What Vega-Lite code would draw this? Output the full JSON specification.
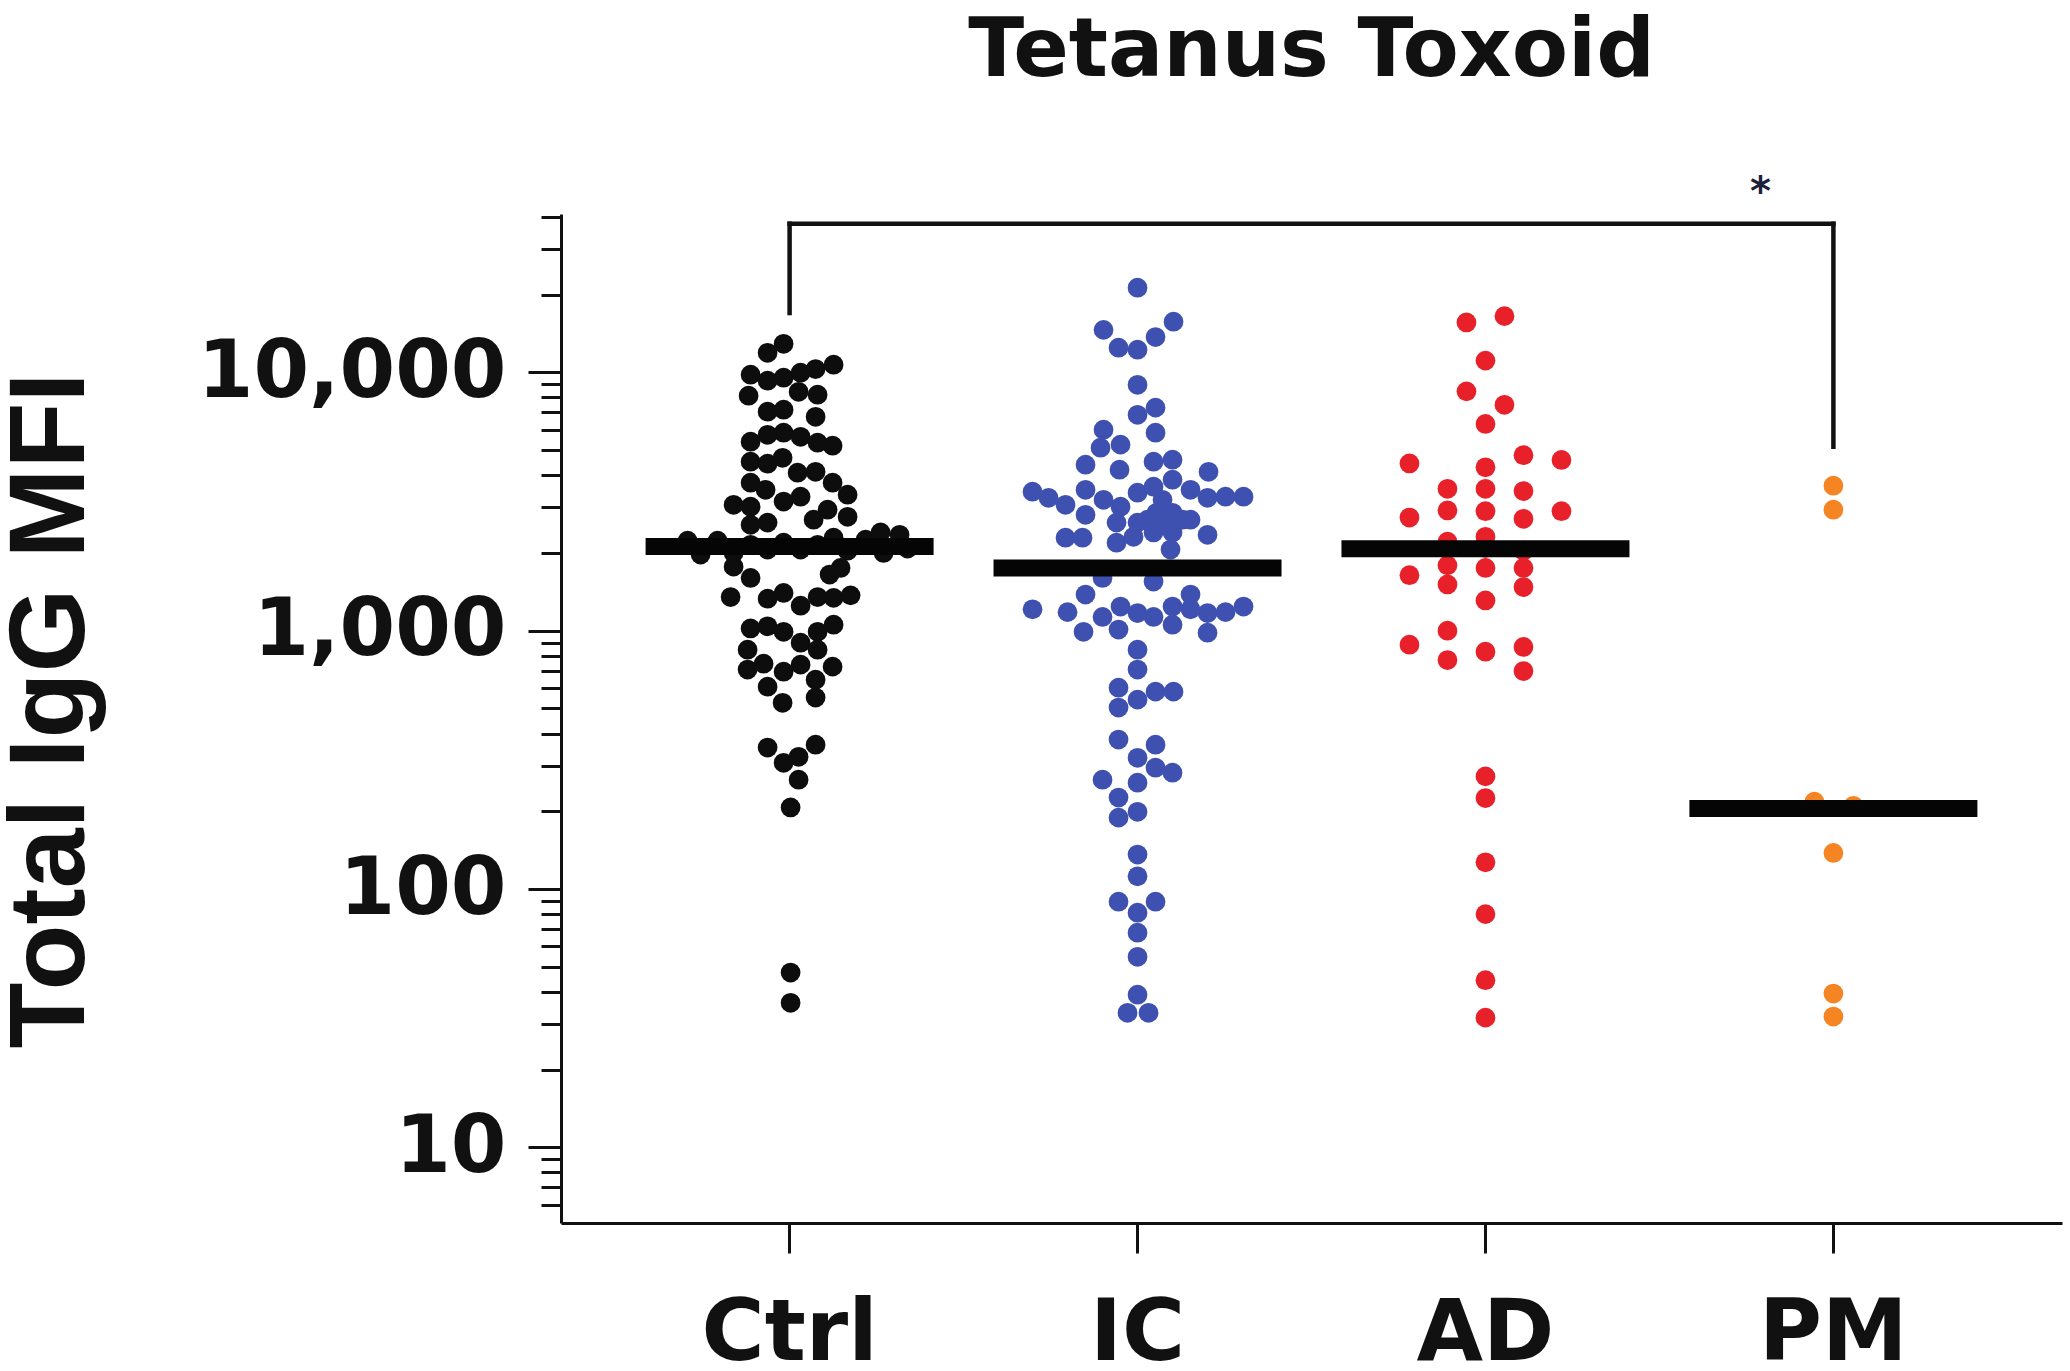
{
  "$schema": "https://vega.github.io/schema/vega-lite/v6.json",
  "width": 1501,
  "height": 1009,
  "autosize": {"type": "none"},
  "padding": {"left": 561, "top": 214, "right": 8, "bottom": 148},
  "background": "white",
  "config": {"view": {"stroke": null}, "font": "DejaVu Sans"},
  "title": {"text": "Tetanus Toxoid", "frame": "group", "anchor": "middle", "offset": 80, "fontSize": 82, "font": "DejaVu Sans", "fontWeight": "bold", "color": "#111111"},
  "datasets": {
    "points": [
      {"g":"Ctrl","o":-6,"v":12900},{"g":"Ctrl","o":-22,"v":11900},{"g":"Ctrl","o":-39,"v":9790},{"g":"Ctrl","o":-22,"v":9280},{"g":"Ctrl","o":-6,"v":9530},{"g":"Ctrl","o":11,"v":9970},{"g":"Ctrl","o":26,"v":10300},{"g":"Ctrl","o":44,"v":10700},{"g":"Ctrl","o":-41,"v":8120},{"g":"Ctrl","o":9,"v":8410},{"g":"Ctrl","o":28,"v":8190},{"g":"Ctrl","o":-22,"v":7040},{"g":"Ctrl","o":-6,"v":7170},{"g":"Ctrl","o":26,"v":6730},{"g":"Ctrl","o":-39,"v":5390},{"g":"Ctrl","o":-22,"v":5730},{"g":"Ctrl","o":-6,"v":5840},{"g":"Ctrl","o":11,"v":5630},{"g":"Ctrl","o":28,"v":5340},{"g":"Ctrl","o":43,"v":5200},{"g":"Ctrl","o":-39,"v":4510},{"g":"Ctrl","o":-22,"v":4430},{"g":"Ctrl","o":-7,"v":4670},{"g":"Ctrl","o":8,"v":4090},{"g":"Ctrl","o":26,"v":4120},{"g":"Ctrl","o":-39,"v":3740},{"g":"Ctrl","o":-24,"v":3510},{"g":"Ctrl","o":43,"v":3740},{"g":"Ctrl","o":58,"v":3360},{"g":"Ctrl","o":-56,"v":3070},{"g":"Ctrl","o":-39,"v":3020},{"g":"Ctrl","o":-6,"v":3160},{"g":"Ctrl","o":11,"v":3300},{"g":"Ctrl","o":38,"v":2940},{"g":"Ctrl","o":58,"v":2760},{"g":"Ctrl","o":24,"v":2690},{"g":"Ctrl","o":-39,"v":2570},{"g":"Ctrl","o":-22,"v":2620},
      {"g":"Ctrl","o":-102,"v":2230},{"g":"Ctrl","o":-89,"v":1970},{"g":"Ctrl","o":-72,"v":2230},{"g":"Ctrl","o":-56,"v":2000},{"g":"Ctrl","o":-39,"v":2150},{"g":"Ctrl","o":-22,"v":2060},{"g":"Ctrl","o":-6,"v":2190},{"g":"Ctrl","o":11,"v":2060},{"g":"Ctrl","o":28,"v":2150},{"g":"Ctrl","o":44,"v":2290},{"g":"Ctrl","o":58,"v":2040},{"g":"Ctrl","o":76,"v":2250},{"g":"Ctrl","o":91,"v":2400},{"g":"Ctrl","o":94,"v":2000},{"g":"Ctrl","o":110,"v":2350},{"g":"Ctrl","o":118,"v":2080},
      {"g":"Ctrl","o":-56,"v":1770},{"g":"Ctrl","o":-39,"v":1600},{"g":"Ctrl","o":40,"v":1650},{"g":"Ctrl","o":51,"v":1750},{"g":"Ctrl","o":-59,"v":1350},{"g":"Ctrl","o":-22,"v":1330},{"g":"Ctrl","o":-6,"v":1400},{"g":"Ctrl","o":11,"v":1250},{"g":"Ctrl","o":28,"v":1350},{"g":"Ctrl","o":44,"v":1340},{"g":"Ctrl","o":61,"v":1370},{"g":"Ctrl","o":-39,"v":1020},{"g":"Ctrl","o":-22,"v":1040},{"g":"Ctrl","o":-6,"v":990},{"g":"Ctrl","o":28,"v":990},{"g":"Ctrl","o":44,"v":1055},{"g":"Ctrl","o":-42,"v":844},{"g":"Ctrl","o":11,"v":899},{"g":"Ctrl","o":28,"v":844},{"g":"Ctrl","o":-42,"v":707},{"g":"Ctrl","o":-26,"v":745},{"g":"Ctrl","o":-6,"v":694},{"g":"Ctrl","o":11,"v":739},{"g":"Ctrl","o":43,"v":726},{"g":"Ctrl","o":-22,"v":607},{"g":"Ctrl","o":-7,"v":526},{"g":"Ctrl","o":26,"v":646},{"g":"Ctrl","o":26,"v":551},{"g":"Ctrl","o":-22,"v":353},{"g":"Ctrl","o":-6,"v":308},{"g":"Ctrl","o":9,"v":325},{"g":"Ctrl","o":26,"v":362},{"g":"Ctrl","o":9,"v":265},{"g":"Ctrl","o":1,"v":207},{"g":"Ctrl","o":1,"v":47.5},{"g":"Ctrl","o":1,"v":36.3},
      {"g":"IC","o":0,"v":21250},{"g":"IC","o":-34,"v":14600},{"g":"IC","o":-19,"v":12450},{"g":"IC","o":0,"v":12230},{"g":"IC","o":18,"v":13700},{"g":"IC","o":36,"v":15700},{"g":"IC","o":0,"v":8950},{"g":"IC","o":0,"v":6850},{"g":"IC","o":18,"v":7300},{"g":"IC","o":18,"v":5840},{"g":"IC","o":-34,"v":6000},{"g":"IC","o":-17,"v":5250},{"g":"IC","o":-37,"v":5110},{"g":"IC","o":-52,"v":4390},{"g":"IC","o":-18,"v":4200},{"g":"IC","o":16,"v":4510},{"g":"IC","o":35,"v":4590},{"g":"IC","o":71,"v":4120},{"g":"IC","o":-105,"v":3450},{"g":"IC","o":-89,"v":3270},{"g":"IC","o":-72,"v":3070},{"g":"IC","o":-52,"v":3510},{"g":"IC","o":-52,"v":2810},{"g":"IC","o":-34,"v":3210},{"g":"IC","o":-17,"v":3020},{"g":"IC","o":0,"v":3420},{"g":"IC","o":16,"v":3610},{"g":"IC","o":35,"v":3840},{"g":"IC","o":53,"v":3510},{"g":"IC","o":70,"v":3270},{"g":"IC","o":88,"v":3300},{"g":"IC","o":106,"v":3300},{"g":"IC","o":19,"v":2860},{"g":"IC","o":35,"v":2860},{"g":"IC","o":53,"v":2690},{"g":"IC","o":-72,"v":2290},{"g":"IC","o":-55,"v":2290},{"g":"IC","o":-21,"v":2190},{"g":"IC","o":-4,"v":2310},{"g":"IC","o":16,"v":2400},{"g":"IC","o":35,"v":2400},{"g":"IC","o":70,"v":2350},{"g":"IC","o":-21,"v":2620},{"g":"IC","o":0,"v":2620},{"g":"IC","o":33,"v":2060},{"g":"IC","o":25,"v":3210},{"g":"IC","o":45,"v":2690},{"g":"IC","o":10,"v":2690},{"g":"IC","o":28,"v":2570},
      {"g":"IC","o":-35,"v":1600},{"g":"IC","o":16,"v":1550},{"g":"IC","o":-52,"v":1380},{"g":"IC","o":53,"v":1380},{"g":"IC","o":-105,"v":1210},{"g":"IC","o":-70,"v":1180},{"g":"IC","o":-54,"v":990},{"g":"IC","o":-35,"v":1130},{"g":"IC","o":-17,"v":1240},{"g":"IC","o":0,"v":1170},{"g":"IC","o":-19,"v":1010},{"g":"IC","o":16,"v":1130},{"g":"IC","o":35,"v":1240},{"g":"IC","o":35,"v":1055},{"g":"IC","o":53,"v":1210},{"g":"IC","o":70,"v":982},{"g":"IC","o":70,"v":1170},{"g":"IC","o":88,"v":1180},{"g":"IC","o":106,"v":1240},{"g":"IC","o":0,"v":844},{"g":"IC","o":0,"v":707},{"g":"IC","o":-19,"v":602},{"g":"IC","o":0,"v":541},{"g":"IC","o":18,"v":581},{"g":"IC","o":36,"v":581},{"g":"IC","o":-19,"v":504},{"g":"IC","o":-19,"v":379},{"g":"IC","o":18,"v":362},{"g":"IC","o":0,"v":322},{"g":"IC","o":35,"v":282},{"g":"IC","o":18,"v":295},{"g":"IC","o":0,"v":258},{"g":"IC","o":-35,"v":265},{"g":"IC","o":-19,"v":226},{"g":"IC","o":0,"v":199},{"g":"IC","o":-19,"v":189},{"g":"IC","o":0,"v":136},{"g":"IC","o":0,"v":112},{"g":"IC","o":-19,"v":89.4},{"g":"IC","o":18,"v":89.4},{"g":"IC","o":0,"v":81},{"g":"IC","o":0,"v":67.8},{"g":"IC","o":0,"v":54.7},{"g":"IC","o":0,"v":39},{"g":"IC","o":-10,"v":33.2},{"g":"IC","o":11,"v":33.2},
      {"g":"AD","o":-19,"v":15600},{"g":"AD","o":19,"v":16500},{"g":"AD","o":0,"v":11100},{"g":"AD","o":-19,"v":8440},{"g":"AD","o":19,"v":7490},{"g":"AD","o":0,"v":6310},{"g":"AD","o":-76,"v":4440},{"g":"AD","o":0,"v":4290},{"g":"AD","o":38,"v":4780},{"g":"AD","o":76,"v":4580},{"g":"AD","o":-38,"v":3540},{"g":"AD","o":0,"v":3540},{"g":"AD","o":38,"v":3470},{"g":"AD","o":-76,"v":2740},{"g":"AD","o":-38,"v":2920},{"g":"AD","o":0,"v":2900},{"g":"AD","o":38,"v":2710},{"g":"AD","o":76,"v":2900},{"g":"AD","o":-38,"v":2210},{"g":"AD","o":0,"v":2310},{"g":"AD","o":0,"v":2090},{"g":"AD","o":-38,"v":2060},{"g":"AD","o":38,"v":2040},{"g":"AD","o":-76,"v":1640},{"g":"AD","o":-38,"v":1790},{"g":"AD","o":0,"v":1750},{"g":"AD","o":38,"v":1750},{"g":"AD","o":-38,"v":1510},{"g":"AD","o":38,"v":1475},{"g":"AD","o":0,"v":1310},{"g":"AD","o":-76,"v":883},{"g":"AD","o":-38,"v":1000},{"g":"AD","o":-38,"v":770},{"g":"AD","o":0,"v":829},{"g":"AD","o":38,"v":865},{"g":"AD","o":38,"v":698},{"g":"AD","o":0,"v":273},{"g":"AD","o":0,"v":225},{"g":"AD","o":0,"v":127},{"g":"AD","o":0,"v":80},{"g":"AD","o":0,"v":44.4},{"g":"AD","o":0,"v":31.8},
      {"g":"PM","o":0,"v":3640},{"g":"PM","o":0,"v":2940},{"g":"PM","o":-19,"v":218},{"g":"PM","o":20,"v":210},{"g":"PM","o":0,"v":138},{"g":"PM","o":0,"v":39.4},{"g":"PM","o":0,"v":32.1}
    ],
    "medians": [
      {"g":"Ctrl","m":2120},{"g":"IC","m":1748},{"g":"AD","m":2077},{"g":"PM","m":205}
    ],
    "bracket": [
      {"g":"Ctrl","g2":"PM","y":37600}
    ],
    "legs": [
      {"g":"Ctrl","y1":16960,"y2":37600},{"g":"PM","y1":5150,"y2":37600}
    ],
    "star": [
      {"g":"PM","o":-73,"v":49300,"t":"*"}
    ]
  },
  "resolve": {"axis": {"y": "independent"}},
  "layer": [
    {
      "data": {"name": "points"},
      "mark": {"type": "circle", "size": 390, "opacity": 1},
      "encoding": {
        "x": {"field": "g", "type": "nominal", "sort": ["Ctrl","IC","AD","PM"],
              "scale": {"type": "band", "domain": ["Ctrl","IC","AD","PM"], "paddingInner": 0, "paddingOuter": 0.157},
              "axis": {"orient": "bottom", "title": null, "bandPosition": 0.5, "tickSize": 30, "tickWidth": 3, "tickColor": "#111111", "domainWidth": 3, "domainColor": "#111111", "labelFont": "DejaVu Sans", "labelFontWeight": "bold", "labelFontSize": 86, "labelColor": "#111111", "labelPadding": 106, "labelBaseline": "alphabetic", "labelAngle": 0, "labelLimit": 0}},
        "xOffset": {"field": "o", "type": "quantitative", "scale": {"domain": [-173.97, 173.97], "range": [0, 347.94]}},
        "y": {"field": "v", "type": "quantitative",
              "scale": {"type": "log", "domain": [5.1, 41000], "nice": false},
              "axis": {"orient": "left", "values": [10, 100, 1000, 10000], "format": ",", "grid": false, "tickSize": 33, "tickWidth": 3, "tickColor": "#111111", "domainWidth": 3, "domainColor": "#111111", "labelFont": "DejaVu Sans", "labelFontWeight": "bold", "labelFontSize": 80, "labelColor": "#111111", "labelPadding": 22, "labelBaseline": "middle", "labelFlush": false, "labelOverlap": false, "labelLimit": 0, "title": "Total IgG MFI", "titleFont": "Liberation Sans", "titleFontSize": 108, "titleFontWeight": "bold", "titleColor": "#111111", "titleAngle": -90, "titleX": -478, "titleY": 496, "titleAlign": "center", "titleBaseline": "alphabetic", "titleLimit": 0}},
        "color": {"field": "g", "type": "nominal", "scale": {"domain": ["Ctrl","IC","AD","PM"], "range": ["#0d0d0d", "#3f51b0", "#e8202a", "#f58423"]}, "legend": null}
      }
    },
    {
      "data": {"name": "medians"},
      "mark": {"type": "tick", "size": 288, "thickness": 17, "color": "#050505", "orient": "horizontal", "opacity": 1},
      "encoding": {
        "x": {"field": "g", "type": "nominal"},
        "y": {"field": "m", "type": "quantitative",
              "axis": {"orient": "left", "values": [6,7,8,9,20,30,40,50,60,70,80,90,200,300,400,500,600,700,800,900,2000,3000,4000,5000,6000,7000,8000,9000,20000,30000,40000], "labels": false, "domain": false, "grid": false, "tickSize": 20, "tickWidth": 3, "tickColor": "#111111", "title": null}}
      }
    },
    {
      "data": {"name": "bracket"},
      "mark": {"type": "rule", "strokeWidth": 4.5, "color": "#111111", "strokeCap": "square"},
      "encoding": {
        "x": {"field": "g", "type": "nominal"},
        "x2": {"field": "g2"},
        "y": {"field": "y", "type": "quantitative", "axis": null}
      }
    },
    {
      "data": {"name": "legs"},
      "mark": {"type": "rule", "strokeWidth": 4.5, "color": "#111111", "strokeCap": "square"},
      "encoding": {
        "x": {"field": "g", "type": "nominal"},
        "y": {"field": "y1", "type": "quantitative", "axis": null},
        "y2": {"field": "y2"}
      }
    },
    {
      "data": {"name": "star"},
      "mark": {"type": "text", "fontSize": 40, "fontWeight": "bold", "font": "DejaVu Sans", "color": "#1b1f3a", "baseline": "middle", "align": "center"},
      "encoding": {
        "x": {"field": "g", "type": "nominal"},
        "xOffset": {"field": "o", "type": "quantitative", "scale": {"domain": [-173.97, 173.97], "range": [0, 347.94]}},
        "y": {"field": "v", "type": "quantitative", "axis": null},
        "text": {"field": "t"}
      }
    }
  ]
}
